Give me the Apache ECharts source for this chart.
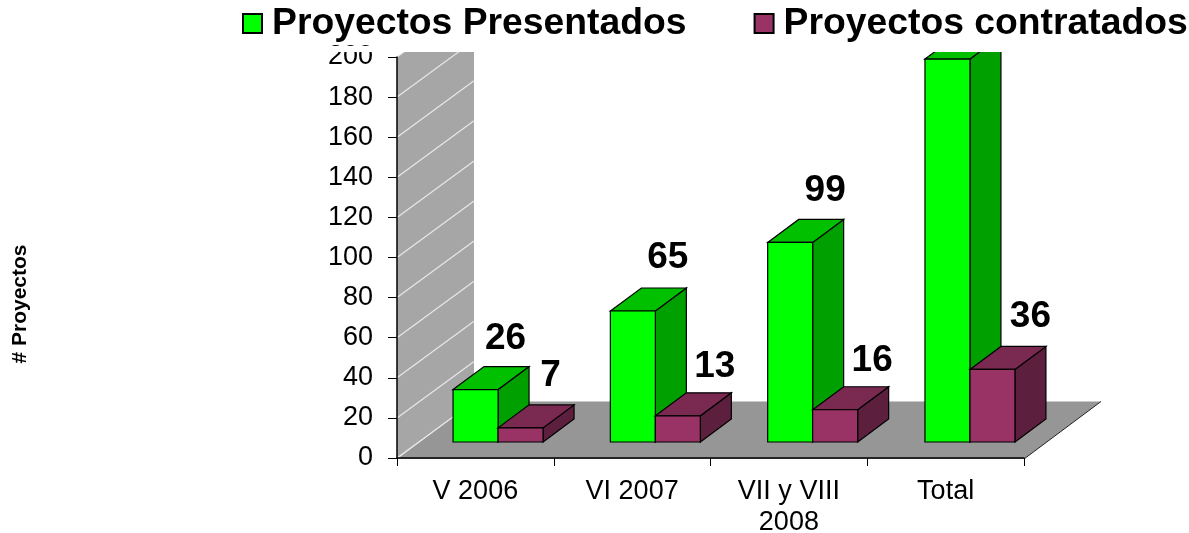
<!DOCTYPE html>
<html>
<head>
<meta charset="utf-8">
<title>Proyectos</title>
<script src="https://cdn.jsdelivr.net/npm/echarts@6/dist/echarts.min.js"></script>
<style>html,body{margin:0;padding:0;background:#fff}</style>
</head>
<body>
<div id="main" style="width:1189px;height:533px;"></div>
<script type="text/javascript">
var categorias = ['V 2006', 'VI 2007', 'VII y VIII\n2008', 'Total'];
var presentados = [26, 65, 99, 190];
var contratados = [7, 13, 16, 36];
var marcas = [0, 20, 40, 60, 80, 100, 120, 140, 160, 180, 200];

var fuente = '"Liberation Sans", Arial, sans-serif';
var prof = [77, 56.5];     // fondo de pared y suelo
var profBarra = [31, 23];  // fondo de cada barra
var corteY = 52;           // todo lo que sube de aqui queda cortado

function recorte() {
    return { type: 'rect', shape: { x: 0, y: corteY, width: 1189, height: 533 - corteY } };
}

// pared y suelo
function dibujaFondo(params, api) {
    var c = params.coordSys;
    var x0 = c.x, x1 = c.x + c.width;
    var y0 = api.coord([0, 0])[1], yTop = api.coord([0, 200])[1];
    var hijos = [
        { type: 'polygon', shape: { points: [[x0, y0], [x0 + prof[0], y0 - prof[1]], [x0 + prof[0], yTop - prof[1]], [x0, yTop]] },
          style: { fill: '#a6a6a6' } },
        { type: 'polygon', shape: { points: [[x0, y0 + 1], [x1, y0 + 1], [x1 + prof[0], y0 - prof[1]], [x0 + prof[0], y0 - prof[1]]] },
          style: { fill: '#969696' } },
        { type: 'line', shape: { x1: x1, y1: y0 + 1, x2: x1 + prof[0], y2: y0 - prof[1] },
          style: { stroke: '#222', lineWidth: 1 } }
    ];
    marcas.forEach(function (v) {
        var y = api.coord([0, v])[1];
        hijos.push({ type: 'line', shape: { x1: x0, y1: y, x2: x0 + prof[0], y2: y - prof[1] },
            style: { stroke: '#e8e8e8', lineWidth: 1.2 } });
    });
    return { type: 'group', clipPath: recorte(), children: hijos };
}

function barra3d(colores, lado) {
    return function (params, api) {
        var i = api.value(0);
        var base = api.coord([i, 0]);
        var cima = api.coord([i, api.value(1)]);
        var ancho = api.size([1, 0])[0] * 0.286;
        var xa = lado < 0 ? base[0] - ancho : base[0];
        var xb = xa + ancho;
        var dx = profBarra[0], dy = profBarra[1];
        var borde = { stroke: '#000', lineWidth: 1.2 };
        return {
            type: 'group', clipPath: recorte(),
            children: [
                { type: 'polygon', shape: { points: [[xb, cima[1]], [xb + dx, cima[1] - dy], [xb + dx, base[1] - dy], [xb, base[1]]] },
                  style: Object.assign({ fill: colores[2] }, borde) },
                { type: 'polygon', shape: { points: [[xa, cima[1]], [xa + dx, cima[1] - dy], [xb + dx, cima[1] - dy], [xb, cima[1]]] },
                  style: Object.assign({ fill: colores[1] }, borde) },
                { type: 'rect', shape: { x: xa, y: cima[1], width: ancho, height: base[1] - cima[1] },
                  style: Object.assign({ fill: colores[0] }, borde) }
            ]
        };
    };
}

// desfase de cada etiqueta respecto a su barra
function etiqueta(lado, desfases) {
    return function (params, api) {
        var i = api.value(0);
        var cima = api.coord([i, api.value(1)]);
        var ancho = api.size([1, 0])[0] * 0.286;
        var d = desfases[i];
        return {
            type: 'group', clipPath: recorte(),
            children: [{ type: 'text', style: {
                text: String(api.value(1)),
                x: cima[0] + lado * ancho / 2 + d[0], y: cima[1] + d[1],
                font: 'bold 37px ' + fuente, fill: '#000', textAlign: 'center', textVerticalAlign: 'middle'
            } }]
        };
    };
}

function pares(vals) {
    return vals.map(function (v, i) { return [i, v]; });
}

var myChart = echarts.init(document.getElementById('main'));
myChart.setOption({
    animation: false,
    legend: {
        left: 242, top: 5, width: 1400, padding: 0, itemWidth: 19, itemHeight: 19, itemGap: 67,
        icon: 'rect',
        data: ['Proyectos Presentados', 'Proyectos contratados'],
        textStyle: { fontFamily: fuente, fontWeight: 'bold', fontSize: 37.3, color: '#000', padding: [0, 0, 0, 5] }
    },
    grid: [
        { left: 397, top: 57, width: 627, height: 401, outerBoundsMode: 'none' },
        { left: 419.4, top: corteY, width: 629.2, height: 390, outerBoundsMode: 'none' }  // plano frontal de las barras
    ],
    xAxis: [
        { type: 'category', data: categorias, gridIndex: 0, z: 5,
          axisLine: { lineStyle: { color: '#000', width: 1.5 } },
          axisTick: { show: true, length: 8, lineStyle: { color: '#000' } },
          axisLabel: { interval: 0, margin: 18, fontFamily: fuente, fontSize: 27, lineHeight: 31, color: '#000' } },
        { type: 'category', data: categorias, gridIndex: 1, show: false }
    ],
    yAxis: [
        { type: 'value', min: 0, max: 200, interval: 20, gridIndex: 0, z: 5,
          name: '# Proyectos', nameLocation: 'middle', nameGap: 366, nameRotate: 90,
          nameTextStyle: { fontFamily: fuente, fontWeight: 'bold', fontSize: 21, color: '#000', padding: [0, 93, 0, 0] },
          axisLine: { show: true, lineStyle: { color: '#000', width: 1.5 } },
          axisTick: { show: true, length: 9, lineStyle: { color: '#000' } },
          axisLabel: { margin: 24, fontFamily: fuente, fontSize: 27, color: '#000' },
          splitLine: { show: false } },
        { type: 'value', min: 0, max: 193.5, gridIndex: 1, show: false }
    ],
    // el "200" del original sale cortado por arriba
    graphic: [{ type: 'rect', z: 100, shape: { x: 320, y: 46, width: 60, height: 6 }, style: { fill: '#fff' } }],
    series: [
        { type: 'custom', name: 'fondo', z: 1, xAxisIndex: 0, yAxisIndex: 0, data: [[0, 0]], renderItem: dibujaFondo, silent: true },
        { type: 'custom', name: 'Proyectos Presentados', z: 2, xAxisIndex: 1, yAxisIndex: 1,
          itemStyle: { color: '#00ff00', borderColor: '#000', borderWidth: 2 },
          encode: { x: 0, y: 1 }, data: pares(presentados),
          renderItem: barra3d(['#00ff00', '#00c000', '#00a000'], -1) },
        { type: 'custom', name: 'Proyectos contratados', z: 3, xAxisIndex: 1, yAxisIndex: 1,
          itemStyle: { color: '#993366', borderColor: '#000', borderWidth: 2 },
          encode: { x: 0, y: 1 }, data: pares(contratados),
          renderItem: barra3d(['#993366', '#7a2950', '#5c1f3d'], 1) },
        { type: 'custom', name: 'etiquetas p', z: 4, xAxisIndex: 1, yAxisIndex: 1,
          encode: { x: 0, y: 1 }, data: pares(presentados),
          renderItem: etiqueta(-1, [[30, -51], [35, -53], [35, -52], [35, -52]]) },
        { type: 'custom', name: 'etiquetas c', z: 4, xAxisIndex: 1, yAxisIndex: 1,
          encode: { x: 0, y: 1 }, data: pares(contratados),
          renderItem: etiqueta(1, [[30, -52], [37, -49], [37, -49], [38, -53]]) }
    ]
});
</script>
</body>
</html>
